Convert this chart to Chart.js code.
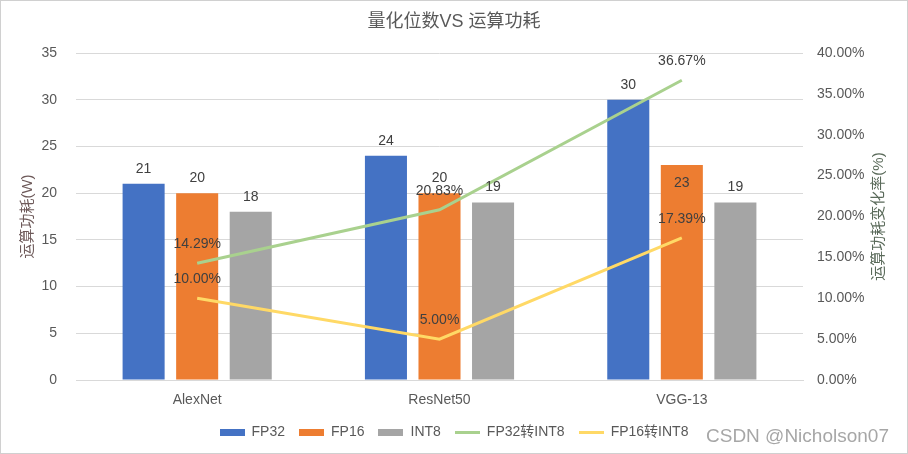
<!DOCTYPE html>
<html lang="zh">
<head>
<meta charset="UTF-8">
<title>量化位数VS运算功耗</title>
<script src="https://cdn.jsdelivr.net/npm/chart.js@4.4.1/dist/chart.umd.min.js"></script>
<style>
  html, body { margin: 0; padding: 0; background: #fff; }
  #wrap { width: 908px; height: 454px; }
</style>
<script>
// data
var categories = ['AlexNet', 'ResNet50', 'VGG-13'];
var fp32 = [21, 24, 30];
var fp16 = [20, 20, 23];
var int8 = [18, 19, 19];
var fp32ToInt8 = [14.29, 20.83, 36.67];   // percent
var fp16ToInt8 = [10.00, 5.00, 17.39];    // percent
var seriesNames = ['FP32', 'FP16', 'INT8', 'FP32转INT8', 'FP16转INT8'];

var textColor = '#595959';
var gridColor = '#d9d9d9';
</script>
</head>
<body>
<div id="wrap"><canvas id="c" width="908" height="454"></canvas></div>
<script>
Chart.defaults.font.family = "'Liberation Sans', 'Noto Sans CJK SC', sans-serif";
Chart.defaults.font.size = 14;
Chart.defaults.color = textColor;

// legend swatches: flat bars for the columns, thin bars for the lines
function swatch(color, h) {
  var cv = document.createElement('canvas');
  cv.width = 25; cv.height = h;
  var cx = cv.getContext('2d');
  cx.fillStyle = color;
  cx.fillRect(0, 0, 25, h);
  return cv;
}

function barSet(label, data, color, dy) {
  return {
    type: 'bar', label: label, data: data, yAxisID: 'y',
    backgroundColor: color, borderWidth: 0, order: 1,
    categoryPercentage: 0.663, barPercentage: 0.785,
    labelDy: dy, swatch: swatch(color, 7)
  };
}
function lineSet(label, data, color) {
  return {
    type: 'line', label: label, data: data, yAxisID: 'y1',
    borderColor: color, backgroundColor: color, borderWidth: 3,
    pointRadius: 0, tension: 0, order: 0, isPct: true,
    labelDy: [-19, -19, -19], swatch: swatch(color, 3)
  };
}

var valueLabels = {
  id: 'valueLabels',
  afterDatasetsDraw: function(chart) {
    var ctx = chart.ctx;
    ctx.save();
    ctx.font = "14px 'Liberation Sans', 'Noto Sans CJK SC', sans-serif";
    ctx.fillStyle = '#404040';
    ctx.textAlign = 'center';
    ctx.textBaseline = 'middle';
    chart.data.datasets.forEach(function(ds, i) {
      var meta = chart.getDatasetMeta(i);
      meta.data.forEach(function(el, j) {
        var v = ds.data[j];
        var txt = ds.isPct ? v.toFixed(2) + '%' : String(v);
        ctx.fillText(txt, el.x, el.y + ds.labelDy[j]);
      });
    });
    ctx.restore();
  }
};

var frame = {
  id: 'frame',
  beforeDraw: function(chart) {
    var ctx = chart.ctx;
    ctx.save();
    ctx.fillStyle = '#fff';
    ctx.fillRect(0, 0, chart.width, chart.height);
    ctx.restore();
  },
  afterDraw: function(chart) {
    var ctx = chart.ctx;
    var area = chart.chartArea;
    ctx.save();
    ctx.strokeStyle = '#d0d0d0';
    ctx.lineWidth = 1;
    ctx.strokeRect(0.5, 0.5, chart.width - 1, chart.height - 1);
    // right axis title, read bottom to top like the left one
    ctx.save();
    ctx.translate(879, (area.top + area.bottom) / 2);
    ctx.rotate(-Math.PI / 2);
    ctx.font = "15px 'Liberation Sans', 'Noto Sans CJK SC', sans-serif";
    ctx.fillStyle = '#5a6a5a';
    ctx.textAlign = 'center';
    ctx.textBaseline = 'middle';
    ctx.fillText('运算功耗变化率(%)', 0, 0);
    ctx.restore();
    // watermark
    ctx.font = "19px 'Liberation Sans', sans-serif";
    ctx.textAlign = 'left';
    ctx.textBaseline = 'middle';
    ctx.fillStyle = 'rgba(150,150,150,0.85)';
    ctx.fillText('CSDN @Nicholson07', 706, 437);
    ctx.restore();
  }
};

var config = {
  data: {
    labels: categories,
    datasets: [
      barSet(seriesNames[0], fp32, '#4472c4', [-15, -15, -15]),
      barSet(seriesNames[1], fp16, '#ed7d31', [-15, -15, 18]),
      barSet(seriesNames[2], int8, '#a5a5a5', [-15, -15, -15]),
      lineSet(seriesNames[3], fp32ToInt8, '#a9d18e'),
      lineSet(seriesNames[4], fp16ToInt8, '#ffd966')
    ]
  },
  options: {
    responsive: false,
    animation: false,
    layout: { padding: { left: 0, right: 0, top: 0, bottom: 5 } },
    scales: {
      x: {
        grid: { display: false, drawTicks: false },
        border: { display: true, color: gridColor },
        ticks: { padding: 12, color: textColor, font: { size: 14 } },
        afterFit: function(s) { s.height = 31; }
      },
      y: {
        position: 'left',
        min: 0, max: 35,
        ticks: { stepSize: 5, padding: 19, color: textColor },
        grid: { color: gridColor, drawTicks: false },
        border: { display: false },
        title: { display: true, text: '运算功耗(W)', color: '#6e5a5a', font: { size: 15 }, padding: { top: 19 } },
        afterFit: function(s) { s.width = 76; }
      },
      y1: {
        position: 'right',
        min: 0, max: 40,
        ticks: {
          stepSize: 5, padding: 14, color: textColor,
          callback: function(v) { return v.toFixed(2) + '%'; }
        },
        grid: { display: false, drawTicks: false },
        border: { display: false },
        afterFit: function(s) { s.width = 105; }
      }
    },
    plugins: {
      title: {
        display: true,
        text: '量化位数VS 运算功耗',
        color: textColor,
        font: { size: 18, weight: 'normal' },
        padding: { top: 11, bottom: 20.4 }
      },
      legend: {
        position: 'bottom',
        labels: {
          usePointStyle: true,
          pointStyleWidth: 25,
          padding: 14,
          color: textColor,
          font: { size: 14 },
          sort: function(a, b) { return a.datasetIndex - b.datasetIndex; },
          generateLabels: function(chart) {
            var items = Chart.defaults.plugins.legend.labels.generateLabels(chart);
            items.forEach(function(it) {
              it.pointStyle = chart.data.datasets[it.datasetIndex].swatch;
            });
            return items;
          }
        }
      },
      tooltip: { enabled: false }
    }
  },
  plugins: [frame, valueLabels]
};

window.onload = function() {
  var ctx = document.getElementById('c').getContext('2d');
  window.myChart = new Chart(ctx, config);
};
</script>
</body>
</html>
